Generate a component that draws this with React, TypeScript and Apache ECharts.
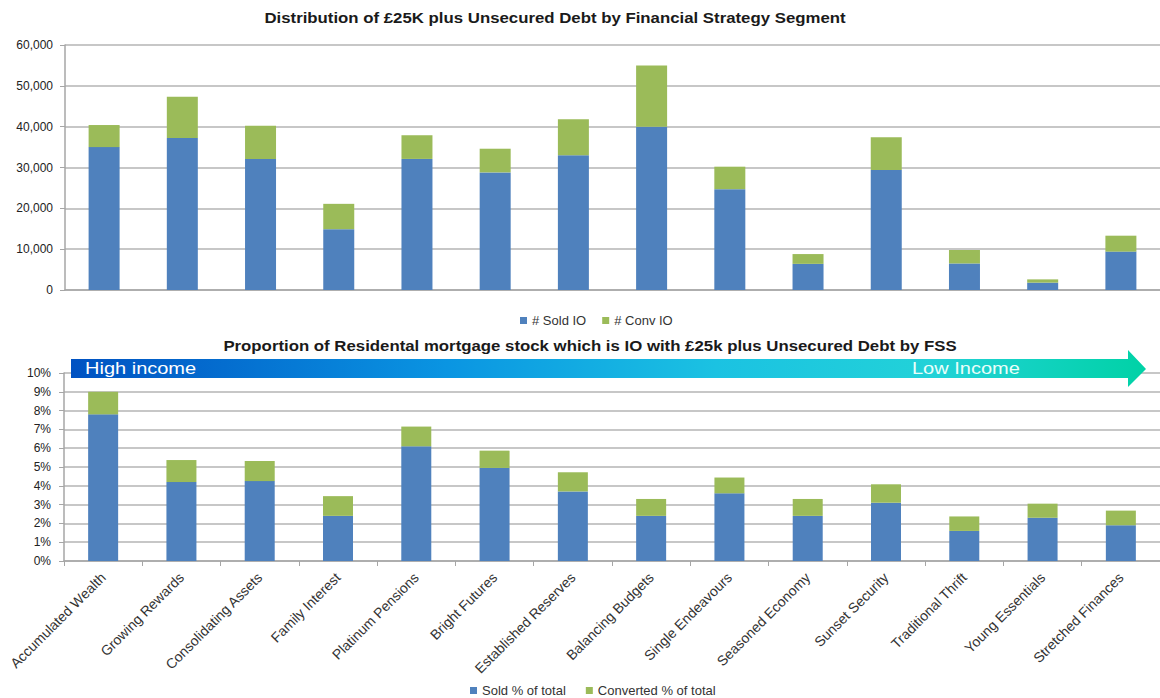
import React, { useEffect, useRef } from "react";
import * as echarts from "echarts";

const categories = [
  "Accumulated Wealth", "Growing Rewards", "Consolidating Assets", "Family Interest",
  "Platinum Pensions", "Bright Futures", "Established Reserves", "Balancing Budgets",
  "Single Endeavours", "Seasoned Economy", "Sunset Security", "Traditional Thrift",
  "Young Essentials", "Stretched Finances",
];

// Top chart: counts
const soldIO = [35000, 37200, 32100, 14900, 32100, 28800, 33000, 40000, 24700, 6400, 29400, 6500, 1800, 9400];
const convIO = [5400, 10100, 8100, 6200, 5800, 5800, 8800, 15000, 5500, 2400, 8000, 3300, 800, 3900];

// Bottom chart: percentages
const soldPct = [7.8, 4.2, 4.25, 2.4, 6.1, 4.95, 3.7, 2.4, 3.6, 2.4, 3.1, 1.6, 2.3, 1.9];
const convPct = [1.2, 1.17, 1.07, 1.05, 1.05, 0.92, 1.02, 0.9, 0.84, 0.9, 0.98, 0.77, 0.75, 0.78];

const topTicks = [0, 10000, 20000, 30000, 40000, 50000, 60000];

const BLUE = "#4f81bd";
const GREEN = "#9bbb59";
const FONT = "Liberation Sans, Arial, sans-serif";

export default function App() {
  const ref = useRef<HTMLDivElement>(null);
  useEffect(() => {
    if (!ref.current) return;
    const chart = echarts.init(ref.current, undefined, { renderer: "svg" });
    const gridLine = { lineStyle: { color: "#b5b5b5", width: 1.5 } };
    const axisLine = { show: true, lineStyle: { color: "#a6a6a6", width: 1.5 } };
    const titleText = (text: string, x: number, y: number) => ({
      type: "text", z: 101, x, y, scaleX: 1.2,
      style: {
        text, fill: "#1a1a1a", font: `bold 14px ${FONT}`,
        textAlign: "center", textVerticalAlign: "middle", align: "center", verticalAlign: "middle",
      },
    });
    chart.setOption({
      animation: false,
      textStyle: { fontFamily: FONT },
      legend: [
        {
          data: ["# Sold IO", "# Conv IO"],
          left: 515, top: 309,
          itemWidth: 7, itemHeight: 7, itemGap: 16, icon: "rect",
          textStyle: { fontSize: 13, color: "#333", fontFamily: FONT },
        },
        {
          data: ["Sold % of total", "Converted % of total"],
          left: 465, top: 679,
          itemWidth: 7, itemHeight: 7, itemGap: 20, icon: "rect",
          textStyle: { fontSize: 13, color: "#333", fontFamily: FONT },
        },
      ],
      grid: [
        { left: 65, top: 45, width: 1101, height: 245 },
        { left: 64, top: 373, width: 1101, height: 188 },
      ],
      xAxis: [
        {
          type: "category", gridIndex: 0, data: categories,
          axisLine, axisTick: { show: false }, axisLabel: { show: false },
        },
        {
          type: "category", gridIndex: 1, data: categories,
          axisLine,
          axisTick: { show: true, length: 5, lineStyle: { color: "#a6a6a6" } },
          axisLabel: { rotate: 45, fontSize: 14, color: "#333", margin: 14, interval: 0, fontFamily: FONT },
        },
      ],
      yAxis: [
        {
          type: "value", gridIndex: 0, min: topTicks[0], max: topTicks[topTicks.length - 1], interval: 10000,
          axisLine, axisTick: { show: true, length: 5, lineStyle: { color: "#a6a6a6" } },
          splitLine: gridLine,
          axisLabel: {
            fontSize: 12, color: "#222", margin: 12, fontFamily: FONT,
            formatter: (v: number) => v.toLocaleString("en-GB"),
          },
        },
        {
          type: "value", gridIndex: 1, min: 0, max: 10, interval: 1,
          axisLine, axisTick: { show: true, length: 5, lineStyle: { color: "#a6a6a6" } },
          splitLine: gridLine,
          axisLabel: { fontSize: 12, color: "#222", margin: 13, formatter: "{value}%", fontFamily: FONT },
        },
      ],
      series: [
        { name: "# Sold IO", type: "bar", stack: "top", xAxisIndex: 0, yAxisIndex: 0, data: soldIO, barWidth: 31, itemStyle: { color: BLUE } },
        { name: "# Conv IO", type: "bar", stack: "top", xAxisIndex: 0, yAxisIndex: 0, data: convIO, barWidth: 31, itemStyle: { color: GREEN } },
        { name: "Sold % of total", type: "bar", stack: "bottom", xAxisIndex: 1, yAxisIndex: 1, data: soldPct, barWidth: 30, itemStyle: { color: BLUE } },
        { name: "Converted % of total", type: "bar", stack: "bottom", xAxisIndex: 1, yAxisIndex: 1, data: convPct, barWidth: 30, itemStyle: { color: GREEN } },
      ],
      graphic: [
        titleText("Distribution of £25K plus Unsecured Debt by Financial Strategy Segment", 555, 18),
        titleText("Proportion of Residental mortgage stock which is IO with £25k plus Unsecured Debt by FSS", 590, 346),
        {
          type: "polygon", z: 100,
          shape: {
            points: [[71, 359], [1128, 359], [1128, 350], [1146, 369], [1128, 387], [1128, 378], [71, 378]],
          },
          style: {
            fill: new echarts.graphic.LinearGradient(0, 0, 1, 0, [
              { offset: 0, color: "#0052c2" },
              { offset: 0.35, color: "#0a95e2" },
              { offset: 0.6, color: "#1bc2e2" },
              { offset: 0.8, color: "#22d2d8" },
              { offset: 1, color: "#00d2a6" },
            ]),
          },
        },
        {
          type: "text", z: 101, x: 85, y: 369, scaleX: 1.25,
          style: {
            text: "High income", fill: "#ffffff", font: `16px ${FONT}`,
            textVerticalAlign: "middle", verticalAlign: "middle",
          },
        },
        {
          type: "text", z: 101, x: 912, y: 369, scaleX: 1.25,
          style: {
            text: "Low Income", fill: "#eafffa", font: `16px ${FONT}`,
            textVerticalAlign: "middle", verticalAlign: "middle",
          },
        },
      ],
    });
    return () => chart.dispose();
  }, []);
  return (
    <div
      ref={ref}
      style={{ position: "fixed", left: 0, top: 0, width: 1160, height: 698, background: "#fff" }}
    />
  );
}
